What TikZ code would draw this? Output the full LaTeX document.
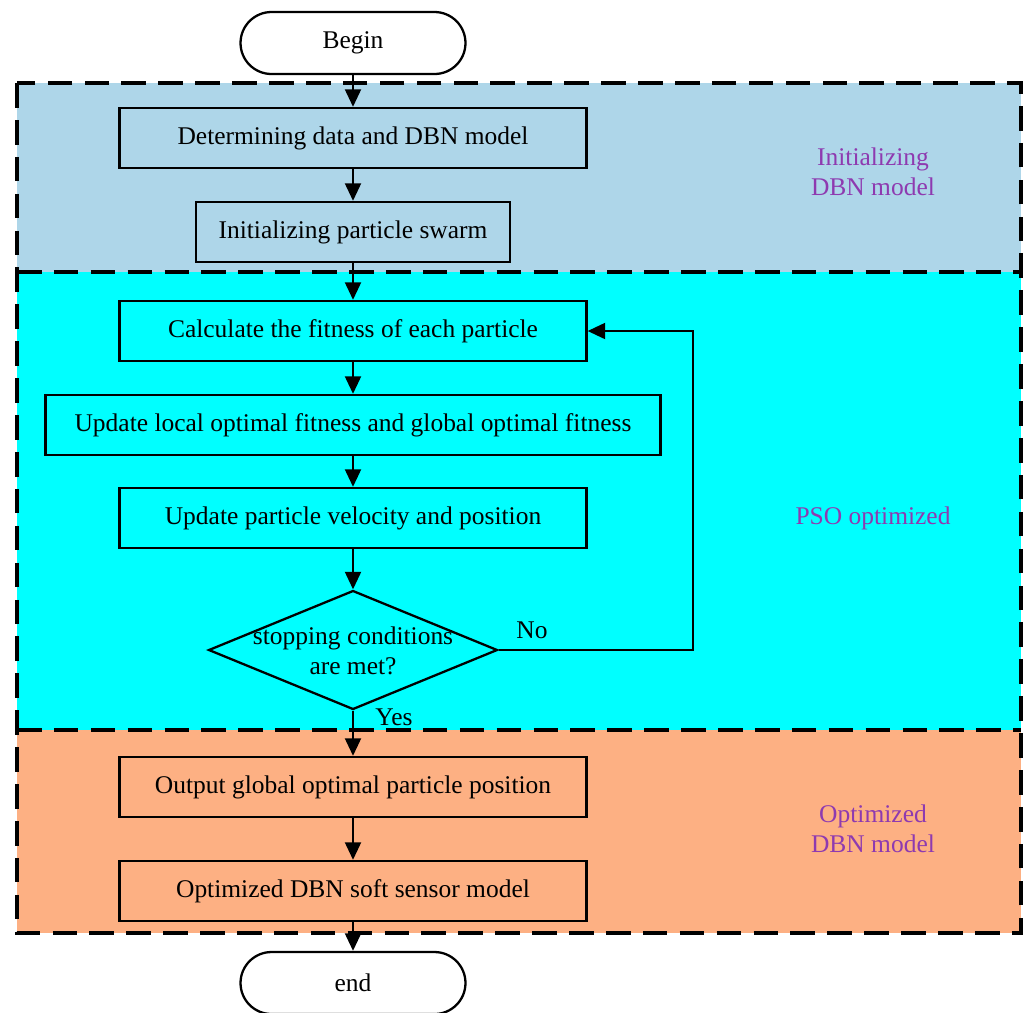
\documentclass[tikz,border=0pt]{standalone}
\usepackage{fontspec}
\setmainfont{Liberation Serif}
\usetikzlibrary{arrows.meta,shapes.geometric}
\definecolor{initblue}{HTML}{AED6E9}
\definecolor{psocyan}{HTML}{00FFFF}
\definecolor{optorange}{HTML}{FDB083}
\definecolor{stagetext}{HTML}{8E3AB0}

\begin{document}
\begin{tikzpicture}[x=0.02cm,y=-0.02cm,
  font=\fontsize{14.5}{17}\selectfont,
  stagebox/.style={draw,line width=2pt,dash pattern=on 14pt off 7pt},
  procbox/.style={draw,line width=1.3pt,minimum height=1.2cm,inner sep=0pt},
  termbox/.style={draw,line width=1.3pt,rounded corners=0.62cm,minimum width=4.5cm,minimum height=1.24cm},
  flow/.style={line width=1.5pt,-{Triangle[length=10pt,width=9pt]}},
  stagelabel/.style={text=stagetext,align=center}]
\useasboundingbox (0,0) rectangle (1023,1012);
% the three stages
\foreach \ya/\yb/\col in {83/272/initblue,272/730/psocyan,730/933/optorange}
{\fill[\col] (17,\ya) rectangle (1021,\yb);}
\draw[stagebox] (17,83) rectangle (1021,933);
\foreach \ya in {272,730}
{\draw[stagebox] (17,\ya) -- (1021,\ya);}
\node[stagelabel] (initlabel) at (873,172) {Initializing\\DBN model};
\node[stagelabel] (psolabel) at (873,518) {PSO optimized};
\node[stagelabel] (optlabel) at (873,829) {Optimized\\DBN model};
% flow chart
\node[termbox] (begin) at (353,43) {Begin};
\node[procbox,minimum width=9.34cm] (data) at (353,138) {Determining data and DBN model};
\node[procbox,minimum width=6.28cm] (swarm) at (353,232) {Initializing particle swarm};
\node[procbox,minimum width=9.34cm] (fit) at (353,331) {Calculate the fitness of each particle};
\node[procbox,minimum width=12.3cm] (upd) at (353,425) {Update local optimal fitness and global optimal fitness};
\node[procbox,minimum width=9.34cm] (vel) at (353,518) {Update particle velocity and position};
\node[diamond,draw,line width=1.3pt,minimum width=5.78cm,minimum height=2.38cm,aspect=2.43,inner sep=0pt] (stop) at (353,650) {};
\node[align=center] (stoptext) at (353,651) {stopping conditions\\are met?};
\node[procbox,minimum width=9.34cm] (outp) at (353,787) {Output global optimal particle position};
\node[procbox,minimum width=9.34cm] (soft) at (353,891) {Optimized DBN soft sensor model};
\node[termbox] (finish) at (353,983) {end};
% connectors
\draw[flow] (begin) -- (data);
\draw[flow] (data) -- (swarm);
\draw[flow] (swarm) -- (fit);
\draw[flow] (fit) -- (upd);
\draw[flow] (upd) -- (vel);
\draw[flow] (vel) -- (stop);
\draw[flow] (stop.south) -- (outp);
\draw[flow] (outp) -- (soft);
\draw[flow] (soft) -- (finish);
\coordinate (loop) at (693,650);
\draw[flow] (stop.east) -- (loop) |- (fit.east);
\node (no) at (532,630) {No};
\node (yes) at (394,717) {Yes};
\end{tikzpicture}
\end{document}
